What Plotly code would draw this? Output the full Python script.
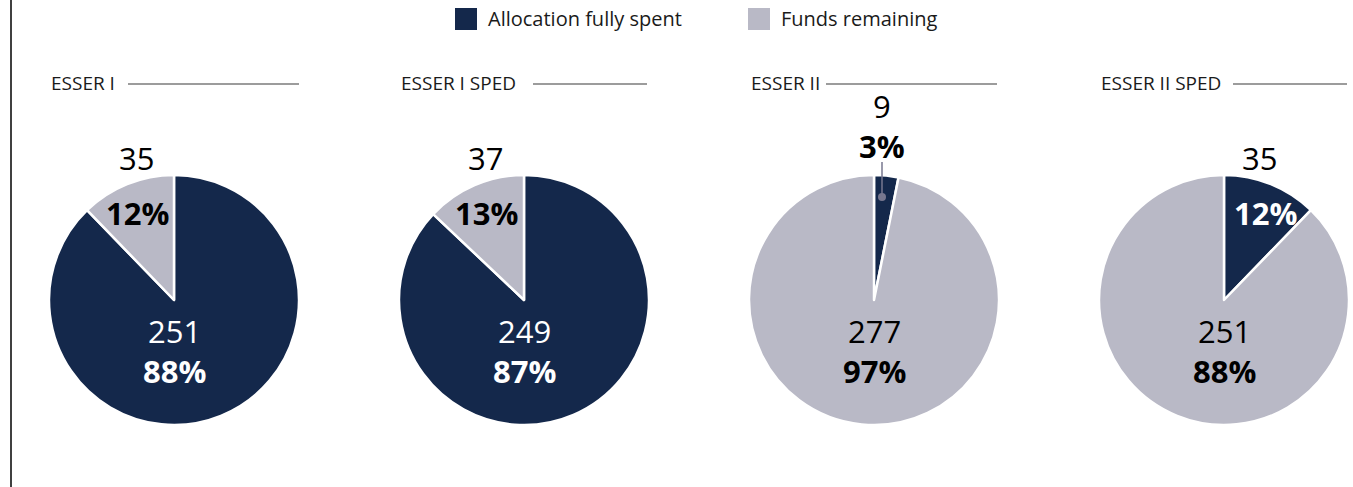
import plotly.graph_objects as go

W, H = 1353, 487

# ---- data ----
programs = ["ESSER I", "ESSER I SPED", "ESSER II", "ESSER II SPED"]
categories = ["Allocation fully spent", "Funds remaining"]
spent = [251, 249, 9, 35]
remaining = [35, 37, 277, 251]

# ---- style ----
NAVY = "#14284b"
GREY = "#b9b9c6"
FONT = "Open Sans"
centers_x = [174, 524, 874, 1224]
center_y = 300
R = 125
NUM_SIZE = 31

def px(x):
    return x / W

def py(y):
    return 1 - y / H

fig = go.Figure()

for i, name in enumerate(programs):
    cx = centers_x[i]
    fig.add_trace(go.Pie(
        labels=categories,
        values=[spent[i], remaining[i]],
        sort=False,
        direction="clockwise",
        rotation=0,
        marker=dict(colors=[NAVY, GREY], line=dict(color="white", width=2.5)),
        textinfo="none",
        hoverinfo="label+value+percent",
        showlegend=False,
        domain=dict(x=[px(cx - R), px(cx + R)], y=[py(center_y + R), py(center_y - R)]),
    ))

annotations = []
shapes = []

def ann(x, y, text, size=NUM_SIZE, color="black", xanchor="center"):
    annotations.append(dict(
        x=px(x), y=py(y), xref="paper", yref="paper", text=text, showarrow=False,
        xanchor=xanchor, yanchor="middle", align="center",
        font=dict(family=FONT, size=size, color=color),
    ))

# titles with rule
title_lines = [(128, 299), (533, 647), (826, 997), (1233, 1347)]
for i, name in enumerate(programs):
    ann(centers_x[i] - R, 83, name, size=19, color="#1a1a1a", xanchor="left")
    x0, x1 = title_lines[i]
    shapes.append(dict(type="line", xref="paper", yref="paper",
                       x0=px(x0), x1=px(x1), y0=py(84), y1=py(84),
                       line=dict(color="#3a3a3a", width=1.2)))

def pct(a, b):
    return round(100 * a / (a + b))

# label placement (pixel positions for the text centres)
big_label_dy = 51
small_pos = [  # (count x,y), (pct x,y)
    ((136, 158), (137, 213)),
    ((485, 158), (486, 213)),
    None,
    ((1259, 158), (1265, 213)),
]

for i in range(len(programs)):
    cx = centers_x[i]
    s, r = spent[i], remaining[i]
    if s >= r:
        big_v, big_col, small_v, small_col = s, "white", r, "black"
    else:
        big_v, big_col, small_v, small_col = r, "black", s, ("white" if i == 3 else "black")
    big_p = pct(big_v, small_v)
    small_p = pct(small_v, big_v)
    ann(cx, center_y + big_label_dy, f"{big_v}<br><b>{big_p}%</b>", color=big_col)
    if small_pos[i] is None:
        # tiny slice: stacked label above the pie with a leader line
        ann(882, 126, f"{small_v}<br><b>{small_p}%</b>", color="black")
    else:
        (cxn, cyn), (pxp, pyp) = small_pos[i]
        ann(cxn, cyn, str(small_v), color="black")
        ann(pxp, pyp, f"<b>{small_p}%</b>", color=small_col)

# leader line for ESSER II tiny slice
shapes.append(dict(type="line", xref="paper", yref="paper",
                   x0=px(882), x1=px(882), y0=py(162), y1=py(196),
                   line=dict(color="#77778f", width=1.5)))
shapes.append(dict(type="circle", xref="paper", yref="paper",
                   x0=px(878), x1=px(886), y0=py(201), y1=py(193),
                   fillcolor="#77778f", line=dict(width=0)))

# custom legend
leg = [(455, NAVY, categories[0]), (748, GREY, categories[1])]
for x0, col, lab in leg:
    shapes.append(dict(type="rect", xref="paper", yref="paper",
                       x0=px(x0), x1=px(x0 + 22), y0=py(30), y1=py(8),
                       fillcolor=col, line=dict(width=0)))
    ann(x0 + 31, 19, lab, size=20, color="#1a1a1a", xanchor="left")

# left vertical rule
shapes.append(dict(type="line", xref="paper", yref="paper",
                   x0=px(11), x1=px(11), y0=0, y1=1,
                   line=dict(color="black", width=1.5)))

fig.update_layout(
    width=W, height=H,
    margin=dict(l=0, r=0, t=0, b=0),
    paper_bgcolor="white", plot_bgcolor="white",
    showlegend=False,
    annotations=annotations, shapes=shapes,
    font=dict(family=FONT),
)

fig.write_html("out.html", config={"displayModeBar": False},
               post_script="document.body.style.margin='0';document.body.style.overflow='hidden';")
